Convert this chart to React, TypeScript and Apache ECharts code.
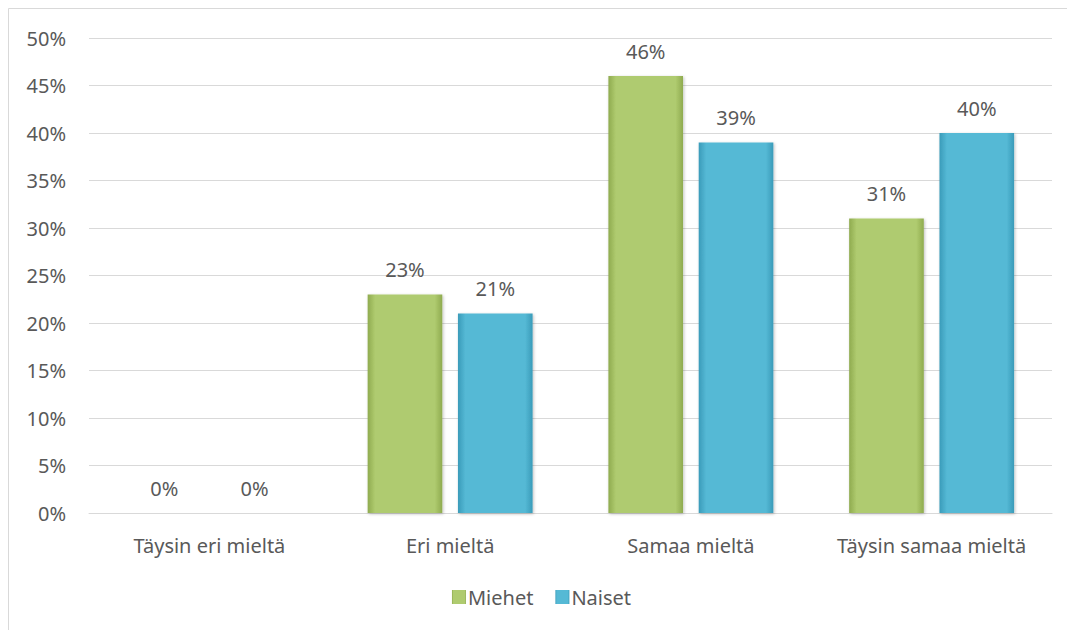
import React, { useEffect, useRef } from "react";
import * as echarts from "echarts";

const categories = ["Täysin eri mieltä", "Eri mieltä", "Samaa mieltä", "Täysin samaa mieltä"];
const miehet = [0, 23, 46, 31];
const naiset = [0, 21, 39, 40];
const seriesNames = ["Miehet", "Naiset"];

const font = "'Noto Sans', 'Open Sans', sans-serif";
const textColor = "#595959";
const fs = 20;

function grad(edge: string, mid: string) {
  return new echarts.graphic.LinearGradient(0, 0, 1, 0, [
    { offset: 0, color: edge },
    { offset: 0.1, color: mid },
    { offset: 0.9, color: mid },
    { offset: 1, color: edge },
  ]);
}

export default function App() {
  const ref = useRef<HTMLDivElement>(null);
  useEffect(() => {
    if (!ref.current) return;
    const chart = echarts.init(ref.current, null, { renderer: "svg" });
    const label = {
      show: true,
      position: "top",
      distance: 15,
      color: textColor,
      fontSize: fs,
      fontFamily: font,
      formatter: (p: any) => p.value + "%",
    };
    chart.setOption({
      animation: false,
      textStyle: { fontFamily: font },
      graphic: [
        {
          type: "rect",
          shape: { x: 0.5, y: 0.5, width: 1100, height: 700 },
          style: { fill: "none", stroke: "#d9d9d9", lineWidth: 1 },
          silent: true,
        },
      ],
      grid: { left: 81, right: 23, top: 30, bottom: 117 },
      legend: {
        top: 574,
        left: "center",
        itemWidth: 14,
        itemHeight: 14,
        itemGap: 22,
        icon: "rect",
        textStyle: { color: textColor, fontSize: fs, fontFamily: font, padding: [0, 0, 0, -3] },
        data: seriesNames,
      },
      xAxis: {
        type: "category",
        data: categories,
        axisLine: { lineStyle: { color: "#d9d9d9", width: 1 } },
        axisTick: { show: false },
        axisLabel: { color: textColor, fontSize: fs, fontFamily: font, margin: 22, interval: 0 },
      },
      yAxis: {
        type: "value",
        min: 0,
        max: 50,
        interval: 5,
        axisLine: { show: false },
        axisTick: { show: false },
        splitLine: { lineStyle: { color: "#d9d9d9", width: 1 } },
        axisLabel: { color: textColor, fontSize: fs, fontFamily: font, margin: 23, formatter: "{value}%" },
      },
      series: [
        {
          name: seriesNames[0],
          type: "bar",
          data: miehet,
          barWidth: "31%",
          barGap: "21%",
          itemStyle: {
            color: grad("#8fab4f", "#afcb6f"),
            shadowBlur: 3,
            shadowColor: "rgba(0,0,0,0.25)",
            shadowOffsetX: 1,
            shadowOffsetY: 1,
          },
          label,
        },
        {
          name: seriesNames[1],
          type: "bar",
          data: naiset,
          barWidth: "31%",
          itemStyle: {
            color: grad("#3a9bb9", "#55b9d5"),
            shadowBlur: 3,
            shadowColor: "rgba(0,0,0,0.25)",
            shadowOffsetX: 1,
            shadowOffsetY: 1,
          },
          label,
        },
      ],
    });
    return () => chart.dispose();
  }, []);
  return <div ref={ref} style={{ width: 1067, height: 622 }} />;
}
